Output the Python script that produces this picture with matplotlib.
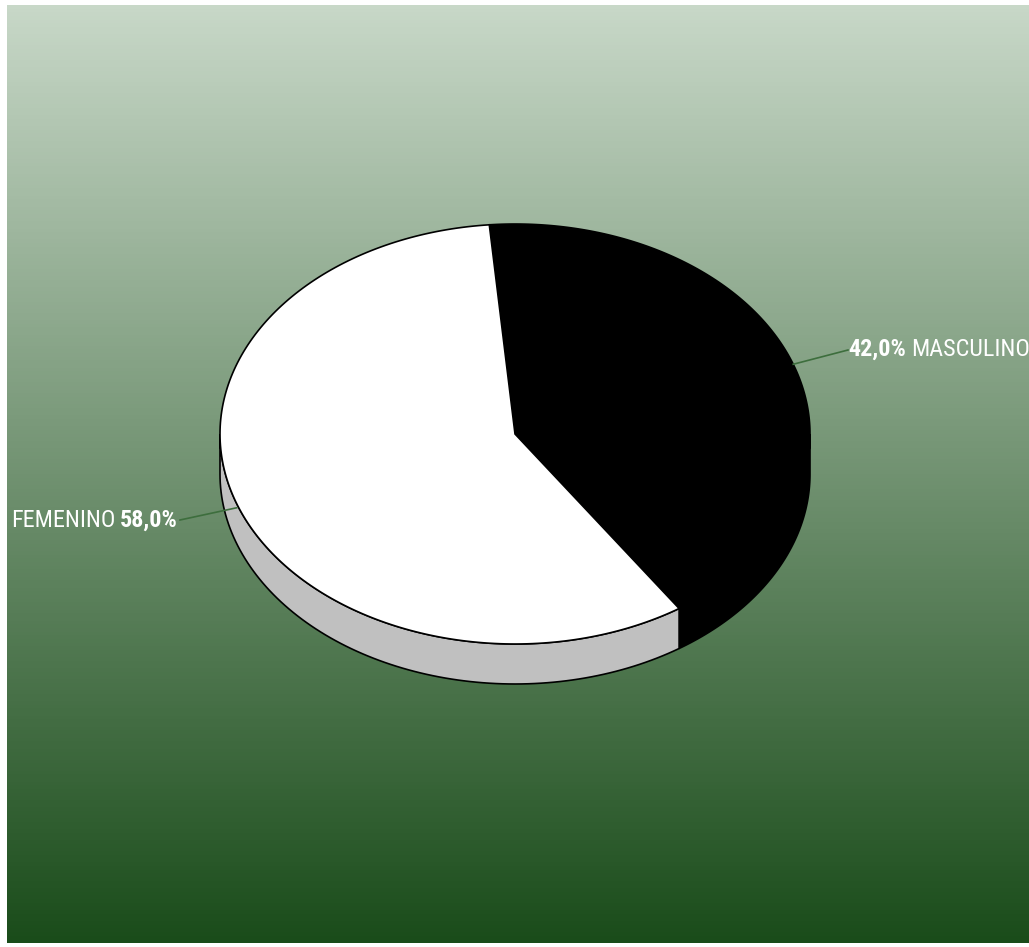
import numpy as np
import matplotlib.pyplot as plt
from matplotlib import font_manager
from matplotlib.patches import Polygon

# data
labels = ["MASCULINO", "FEMENINO"]
values = [42.0, 58.0]
top_colors = ["#000000", "#ffffff"]
side_colors = ["#000000", "#c0c0c0"]

W, H = 1029, 947
fig = plt.figure(figsize=(W / 100, H / 100), dpi=100)
ax = fig.add_axes([0, 0, 1, 1])
ax.set_xlim(0, W)
ax.set_ylim(H, 0)
ax.axis("off")

# background gradient
top = np.array([200, 216, 200]) / 255
bot = np.array([26, 76, 26]) / 255
t = np.linspace(0, 1, 256)[:, None]
grad = (top * (1 - t) + bot * t)[:, None, :]
ax.imshow(grad, extent=[7, W, 943, 5], aspect="auto", zorder=0)

# pie geometry (pixels)
cx, cy = 515, 434
a, b = 295, 210
depth = 40
start = 95.0


def pt(deg, dz=0):
    r = np.radians(deg)
    return cx + a * np.cos(r), cy - b * np.sin(r) + dz


total = sum(values)
angles = []
cur = start
for v in values:
    span = 360.0 * v / total
    angles.append((cur - span, cur))
    cur -= span

# sides (front half only)
for (t1, t2), sc in zip(angles, side_colors):
    for k in (-360, 0, 360):
        lo = max(t1 + k, -180)
        hi = min(t2 + k, 0)
        if hi <= lo:
            continue
        ts = np.linspace(lo, hi, 100)
        upper = [pt(x) for x in ts]
        lower = [pt(x, depth) for x in ts[::-1]]
        ax.add_patch(Polygon(upper + lower, closed=True, facecolor=sc,
                             edgecolor="black", lw=1.2, zorder=2))

# top faces
for (t1, t2), tc in zip(angles, top_colors):
    ts = np.linspace(t1, t2, 200)
    verts = [(cx, cy)] + [pt(x) for x in ts]
    ax.add_patch(Polygon(verts, closed=True, facecolor=tc,
                         edgecolor="black", lw=1.2, zorder=3))

# pick the narrowest font we have
font = "DejaVu Sans"
for name in ["Liberation Sans Narrow", "Arial Narrow", "DejaVu Sans Condensed",
             "Roboto Condensed", "Roboto"]:
    try:
        font_manager.findfont(font_manager.FontProperties(family=name),
                              fallback_to_default=False)
        font = name
        break
    except Exception:
        pass

pct = [f"{v:.1f}%".replace(".", ",") for v in values]

# size text so "FEMENINO 58,0%" spans about 168 px
fs = 20
renderer = fig.canvas.get_renderer()
probe1 = ax.text(0, 0, labels[1] + " ", family=font, fontsize=fs)
probe2 = ax.text(0, 0, pct[1], family=font, fontsize=fs, fontweight="bold")
wtot = (probe1.get_window_extent(renderer).width
        + probe2.get_window_extent(renderer).width)
probe1.remove()
probe2.remove()
fs = min(22, fs * 168 / wtot)

line_col = "#3d6e3d"
mids = [(t1 + t2) / 2 for t1, t2 in angles]
inv = ax.transData.inverted()

# masculino
x0, y0 = pt(mids[0])
ax.plot([x0, 848], [y0, 350], color=line_col, lw=1.2, zorder=4)
tm = ax.text(848, 349, pct[0], color="white", fontsize=fs, fontweight="bold",
             family=font, va="center", ha="left", zorder=5)
bb = tm.get_window_extent(renderer).transformed(inv)
ax.text(bb.x1 + 5, 349, labels[0], color="white", fontsize=fs, family=font,
        va="center", ha="left", zorder=5)

# femenino
x1, y1 = pt(mids[1], 4)
ax.plot([x1, 180], [y1, 520], color=line_col, lw=1.2, zorder=4)
tf = ax.text(178, 520, pct[1], color="white", fontsize=fs, fontweight="bold",
             family=font, va="center", ha="right", zorder=5)
bb = tf.get_window_extent(renderer).transformed(inv)
ax.text(bb.x0 - 5, 520, labels[1], color="white", fontsize=fs, family=font,
        va="center", ha="right", zorder=5)

fig.savefig("out.png", dpi=100, facecolor="white")
